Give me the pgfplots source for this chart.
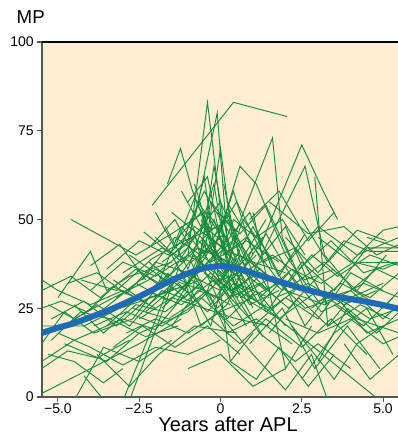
\documentclass[border=0pt]{standalone}
\usepackage{pgfplots}
\pgfplotsset{compat=1.18}
\usepackage{fontspec}
\setmainfont{Liberation Sans}
\definecolor{bgc}{HTML}{FDEDD1}
\definecolor{grn}{HTML}{148C3C}
\definecolor{blu}{HTML}{1E6BB5}
\definecolor{axg}{HTML}{555555}
\tikzset{tr/.style={grn, line width=0.7pt, no marks}}
\begin{document}
\begin{tikzpicture}
\begin{axis}[name=ax,
  scale only axis, width=267pt, height=266.25pt,
  xmin=-5.49, xmax=5.46, ymin=0, ymax=100,
  axis lines*=left,
  axis line style={axg, line width=1pt},
  axis background/.style={fill=bgc},
  xtick={-5,-2.5,0,2.5,5}, xticklabels={−5.0,−2.5,0,2.5,5.0},
  ytick={0,25,50,75,100},
  tick align=outside, major tick length=3.75pt,
  tick style={axg, line width=0.8pt},
  /pgf/number format/assume math mode=true,
  ticklabel style={font=\fontsize{10.5pt}{12pt}\selectfont},
  xticklabel style={yshift=2pt},
  yticklabel style={xshift=1pt},
  xlabel={Years after APL},
  xlabel style={font=\fontsize{15pt}{16pt}\selectfont, yshift=4.5pt, xshift=6pt},
  clip=true,
]
\addplot[tr] coordinates {(-2.1,54) (0.4,83) (2.05,79)};
\addplot[tr] coordinates {(-1.63,60) (-1.23,70) (-0.86,58) (-0.3,45) (0.5,38)};
\addplot[tr] coordinates {(-1.0,40) (-0.4,83) (0.3,30) (1.2,35)};
\addplot[tr] coordinates {(-0.8,50) (-0.1,80) (0.2,45) (0.9,28) (2.0,33)};
\addplot[tr] coordinates {(0.2,40) (1.6,73) (1.9,45) (2.6,30)};
\addplot[tr] coordinates {(1.2,42) (2.5,71) (3.16,58) (3.6,50)};
\addplot[tr] coordinates {(-0.3,38) (0.6,65) (1.1,60) (2.0,40)};
\addplot[tr] coordinates {(1.0,35) (2.6,65) (3.2,40)};
\addplot[tr] coordinates {(-4.6,50) (-2.6,40) (-1.5,46) (-0.5,52)};
\addplot[tr] coordinates {(-5.5,33) (-5.0,30) (-4.0,26) (-3.0,30) (-2.0,25)};
\addplot[tr] coordinates {(-5.0,28) (-4.0,41) (-3.5,30) (-2.8,34) (-1.5,38)};
\addplot[tr] coordinates {(-2.36,46.5) (-1.5,40) (-0.5,48) (0.3,42)};
\addplot[tr] coordinates {(-5.5,10) (-4.5,16) (-3.0,22) (-2.0,19) (-1.0,30)};
\addplot[tr] coordinates {(-5.5,1) (-4.0,8) (-2.5,15) (-1.2,22)};
\addplot[tr] coordinates {(-5.5,20) (-4.2,20) (-3.1,25) (-1.8,29) (-0.6,33)};
\addplot[tr] coordinates {(-4.8,15) (-3.5,10) (-2.5,18) (-1.0,24) (0.3,36)};
\addplot[tr] coordinates {(-5.3,26) (-4.5,22) (-3.5,27) (-2.2,33) (-1.0,42)};
\addplot[tr] coordinates {(-5.5,15) (-4.8,24) (-3.9,18) (-2.7,22) (-1.6,35)};
\addplot[tr] coordinates {(-3.8,12) (-2.8,3) (-1.9,12) (-0.8,20) (0.5,18)};
\addplot[tr] coordinates {(-4.2,6) (-3.4,-3)};
\addplot[tr] coordinates {(0.5,30) (1.5,25) (2.5,38) (3.5,30) (4.5,42) (5.5,42)};
\addplot[tr] coordinates {(1.0,20) (2.0,28) (3.0,22) (4.0,35) (5.0,30)};
\addplot[tr] coordinates {(2.0,45) (3.0,35) (3.8,44) (4.6,41) (5.5,41)};
\addplot[tr] coordinates {(0.0,35) (1.2,18) (2.3,10) (3.0,15) (4.0,8)};
\addplot[tr] coordinates {(1.5,40) (2.6,20) (3.4,30) (4.5,18) (5.5,22)};
\addplot[tr] coordinates {(2.5,5) (3.5,18) (4.5,25) (5.3,12)};
\addplot[tr] coordinates {(-0.2,25) (1.0,12) (2.0,2) (2.8,12) (3.3,-1)};
\addplot[tr] coordinates {(3.0,45) (4.0,38) (5.0,47) (5.5,48)};
\addplot[tr] coordinates {(0.8,45) (2.0,30) (3.2,26) (4.4,32) (5.5,28)};
\addplot[tr] coordinates {(1.8,35) (3.0,48) (4.2,40) (5.5,45)};
\addplot[tr] coordinates {(-0.5,35) (0.7,28) (1.8,22) (3.0,30) (4.2,22) (5.5,18)};
\addplot[tr] coordinates {(0.2,55) (1.3,38) (2.3,42) (3.3,26)};
\addplot[tr] coordinates {(3.8,15) (4.6,5) (5.5,12)};
\addplot[tr] coordinates {(4.0,30) (4.8,36) (5.5,33)};
\addplot[tr] coordinates {(2.2,20) (3.5,5) (4.2,15) (5.0,20)};
\addplot[tr] coordinates {(-2.5,28) (-1.5,35) (-0.8,45) (0.0,38) (0.8,32)};
\addplot[tr] coordinates {(-2.0,30) (-1.2,48) (-0.5,40) (0.2,52) (1.0,35)};
\addplot[tr] coordinates {(-1.8,25) (-0.9,33) (-0.2,50) (0.5,32) (1.5,28)};
\addplot[tr] coordinates {(-3.0,35) (-1.8,42) (-0.9,38) (0.0,45) (1.0,25)};
\addplot[tr] coordinates {(-1.5,20) (-0.7,30) (0.0,28) (0.6,40) (1.5,34)};
\addplot[tr] coordinates {(-2.2,38) (-1.1,30) (-0.3,42) (0.4,35) (1.3,45)};
\addplot[tr] coordinates {(-1.0,55) (-0.4,62) (0.1,40) (0.8,45)};
\addplot[tr] coordinates {(-1.4,44) (-0.6,52) (-0.1,36) (0.6,25)};
\addplot[tr] coordinates {(-3.5,20) (-2.3,30) (-1.2,26) (-0.2,33) (0.9,22)};
\addplot[tr] coordinates {(-2.8,40) (-1.7,33) (-0.7,42) (0.3,38) (1.4,30)};
\addplot[tr] coordinates {(-1.2,35) (-0.6,20) (0.2,26) (1.0,42)};
\addplot[tr] coordinates {(-0.9,28) (-0.3,55) (0.3,48) (1.0,30)};
\addplot[tr] coordinates {(-2.0,45) (-1.2,38) (-0.4,46) (0.4,30) (1.2,36)};
\addplot[tr] coordinates {(-1.6,30) (-0.8,40) (0.0,32) (0.7,50) (1.5,40)};
\addplot[tr] coordinates {(-3.2,28) (-2.0,36) (-1.0,32) (0.0,42) (1.0,38) (2.0,35)};
\addplot[tr] coordinates {(-2.5,22) (-1.5,28) (-0.5,25) (0.5,22) (1.5,20)};
\addplot[tr] coordinates {(-1.0,48) (-0.5,58) (0.0,50) (0.6,42)};
\addplot[tr] coordinates {(-0.7,35) (-0.2,65) (0.3,40)};
\addplot[tr] coordinates {(-1.3,40) (-0.9,50) (-0.5,35) (0.1,30) (0.8,20)};
\addplot[tr] coordinates {(-4.0,30) (-3.0,38) (-2.0,34) (-1.0,40) (0.0,34)};
\addplot[tr] coordinates {(-3.7,24) (-2.6,32) (-1.6,27) (-0.6,36) (0.5,45) (1.5,30)};
\addplot[tr] coordinates {(-2.9,18) (-2.0,22) (-1.0,18) (0.0,24) (1.0,28)};
\addplot[tr] coordinates {(-1.1,25) (-0.4,30) (0.2,18) (1.1,22) (2.2,15)};
\addplot[tr] coordinates {(-2.4,33) (-1.4,45) (-0.3,38) (0.8,44) (1.8,38)};
\addplot[tr] coordinates {(0.0,48) (0.7,35) (1.6,40) (2.6,33) (3.5,36)};
\addplot[tr] coordinates {(-0.6,42) (0.3,28) (1.2,32) (2.1,25) (3.0,34)};
\addplot[tr] coordinates {(-1.8,38) (-0.9,44) (0.0,55) (0.8,38)};
\addplot[tr] coordinates {(-0.4,30) (0.4,50) (1.1,45) (1.9,50) (2.6,40)};
\addplot[tr] coordinates {(-3.3,33) (-2.2,26) (-1.1,35) (0.0,30) (1.1,40)};
\addplot[tr] coordinates {(-1.5,52) (-0.7,46) (-0.1,40) (0.6,35)};
\addplot[tr] coordinates {(-0.2,45) (0.5,55) (1.3,40) (2.0,48) (2.8,30)};
\addplot[tr] coordinates {(-2.7,25) (-1.6,22) (-0.6,28) (0.4,20) (1.4,26)};
\addplot[tr] coordinates {(-0.8,60) (-0.2,42) (0.4,58) (1.0,40)};
\addplot[tr] coordinates {(-4.3,33) (-3.2,30) (-2.1,39) (-1.1,44) (-0.1,48)};
\addplot[tr] coordinates {(-5.2,22) (-4.2,27) (-3.2,20) (-2.2,28) (-1.2,31)};
\addplot[tr] coordinates {(-5.5,8) (-4.7,13) (-3.8,11) (-2.8,16)};
\addplot[tr] coordinates {(-5.0,18) (-4.0,14) (-3.0,9) (-2.0,14) (-1.0,12) (0.0,16)};
\addplot[tr] coordinates {(-5.3,12) (-4.5,10) (-3.6,4) (-3.0,8)};
\addplot[tr] coordinates {(-4.7,32) (-3.8,35) (-2.9,29) (-2.0,38) (-1.0,35)};
\addplot[tr] coordinates {(-5.5,25) (-4.9,27) (-4.1,24) (-3.3,31) (-2.4,27)};
\addplot[tr] coordinates {(-3.9,20) (-2.9,24) (-1.8,20) (-0.8,26)};
\addplot[tr] coordinates {(0.3,10) (1.1,5) (1.8,14) (2.7,3) (3.5,12)};
\addplot[tr] coordinates {(1.5,18) (2.4,28) (3.3,20) (4.3,26) (5.2,22)};
\addplot[tr] coordinates {(2.8,25) (3.7,32) (4.6,28) (5.5,35)};
\addplot[tr] coordinates {(1.2,28) (2.2,36) (3.1,32) (4.1,38) (5.0,36) (5.5,38)};
\addplot[tr] coordinates {(2.0,22) (3.0,18) (4.0,22) (5.0,15) (5.5,17)};
\addplot[tr] coordinates {(3.2,40) (4.1,30) (5.0,25) (5.5,30)};
\addplot[tr] coordinates {(0.9,15) (1.9,25) (2.9,8) (3.9,20) (4.9,8)};
\addplot[tr] coordinates {(-1.0,8) (0.0,12) (1.0,3) (2.0,8)};
\addplot[tr] coordinates {(4.5,45) (5.5,42)};
\addplot[tr] coordinates {(2.4,36) (3.4,44) (4.4,35) (5.4,38)};
\addplot[tr] coordinates {(-0.3,22) (0.6,15) (1.4,22) (2.5,14) (3.4,22) (4.5,12)};
\addplot[tr] coordinates {(-2.0,52) (-1.4,42) (-0.8,56) (-0.3,47) (0.3,50)};
\addplot[tr] coordinates {(-1.2,58) (-0.6,48) (-0.2,60) (0.2,38)};
\addplot[tr] coordinates {(-0.5,40) (0.0,70) (0.4,42)};
\addplot[tr] coordinates {(-0.1,36) (4.9,-1)};
\addplot[tr] coordinates {(-4.5,-1) (-3.6,14) (-2.5,10) (-1.5,16)};
\addplot[tr] coordinates {(-3.0,-1) (-1.5,33) (-0.5,30)};
\addplot[tr] coordinates {(-2.8,-1) (-1.3,36) (-0.2,28)};
\addplot[tr] coordinates {(1.5,55) (2.7,46) (3.8,48) (4.8,40) (5.5,43)};
\addplot[tr] coordinates {(0.9,50) (1.8,58) (2.7,44) (3.5,52)};
\addplot[tr] coordinates {(-1.7,48) (-1.0,36) (-0.4,52) (0.2,44) (0.9,52) (1.6,36)};
\addplot[tr] coordinates {(-2.2,42) (-1.4,50) (-0.7,38) (0.1,46) (0.7,30)};
\addplot[tr] coordinates {(-1.1,30) (-0.5,44) (0.1,35) (0.7,38) (1.4,24) (2.3,30)};
\addplot[tr] coordinates {(-0.9,38) (-0.3,26) (0.3,34) (0.9,26) (1.8,30)};
\addplot[tr] coordinates {(-3.5,36) (-2.5,44) (-1.6,40) (-0.8,48) (0.1,42)};
\addplot[tr] coordinates {(-4.8,20) (-3.8,26) (-2.8,20) (-1.8,30) (-0.9,27)};
\addplot[tr] coordinates {(-5.5,30) (-4.6,34) (-3.7,28) (-2.6,36) (-1.7,31)};
\addplot[tr] coordinates {(-4.5,26) (-3.6,18) (-2.6,26) (-1.7,24) (-0.7,31) (0.3,26)};
\addplot[tr] coordinates {(-5.2,16) (-4.3,24) (-3.4,22) (-2.3,17) (-1.3,20)};
\addplot[tr] coordinates {(-3.3,14) (-2.4,20) (-1.4,14) (-0.4,20) (0.6,12)};
\addplot[tr] coordinates {(0.5,33) (1.4,46) (2.3,32) (3.2,38) (4.2,30) (5.1,40)};
\addplot[tr] coordinates {(1.0,38) (1.9,30) (2.8,40) (3.6,34) (4.6,40) (5.5,37)};
\addplot[tr] coordinates {(2.0,40) (3.0,27) (4.0,30) (5.0,22) (5.5,26)};
\addplot[tr] coordinates {(0.3,40) (1.2,26) (2.1,35) (3.1,24) (4.0,28) (5.0,32)};
\addplot[tr] coordinates {(-0.6,50) (0.2,35) (1.0,48) (1.8,34) (2.6,46)};
\addplot[tr] coordinates {(3.5,26) (4.4,20) (5.3,28)};
\addplot[tr] coordinates {(2.5,50) (3.3,38) (4.2,47) (5.1,44)};
\addplot[tr] coordinates {(0.6,28) (1.6,34) (2.6,25) (3.6,28) (4.6,22) (5.5,25)};
\addplot[tr] coordinates {(-0.2,32) (0.8,36) (1.7,28) (2.7,32) (3.8,26) (4.8,30)};
\addplot[tr] coordinates {(-1.4,26) (-0.6,38) (0.2,22) (1.1,30) (2.0,20)};
\addplot[tr] coordinates {(-2.6,36) (-1.8,31) (-0.9,35) (-0.1,25) (0.7,32)};
\addplot[tr] coordinates {(-1.9,34) (-1.1,28) (-0.3,35) (0.5,28) (1.3,35)};
\addplot[tr] coordinates {(-0.1,52) (0.6,46) (1.4,54) (2.2,38)};
\addplot[tr] coordinates {(-2.3,24) (-1.3,32) (-0.4,24) (0.4,32) (1.3,17)};
\addplot[tr] coordinates {(3.0,10) (3.9,25) (4.8,18) (5.5,24)};
\addplot[tr] coordinates {(4.3,38) (5.5,38)};
\addplot[tr] coordinates {(-4.0,37) (-3.1,43) (-2.3,33)};
\addplot[tr] coordinates {(-1.5,40) (-0.3,20) (0.5,46)};
\addplot[tr] coordinates {(0.1,60) (0.6,38) (1.4,50)};
\addplot[tr] coordinates {(-0.7,55) (-0.1,47) (0.5,30)};
\addplot[tr] coordinates {(-1.0,44) (-0.5,62) (0.3,10) (1.0,18)};
\addplot[tr] coordinates {(1.0,52) (2.0,8) (2.8,20)};
\addplot[tr] coordinates {(2.9,62) (3.3,20) (4.0,28)};
\addplot[blu, line width=4.5pt, smooth, no marks] coordinates {
(-5.5,18) (-5,19.5) (-4.5,20.8) (-4,22.5) (-3.5,24.2) (-3,26.2) (-2.5,28.3) (-2,30.6) (-1.5,32.9) (-1,34.8) (-0.5,36.3) (0,36.9) (0.5,36.3) (1,34.9) (1.5,33.4) (2,32) (2.5,30.6) (3,29.4) (3.5,28.4) (4,27.6) (4.5,26.8) (5,25.9) (5.5,24.8)};
\end{axis}
\draw[black, line width=1pt] (ax.north west) -- (ax.north east);
\node[anchor=base west, font=\fontsize{14pt}{16pt}\selectfont] at ([xshift=-22.5pt,yshift=13.5pt]ax.north west) {MP};
\pgfresetboundingbox
\path ([xshift=-31.5pt,yshift=-29.25pt]ax.south west) rectangle ([yshift=31.5pt]ax.north east);
\end{tikzpicture}
\end{document}
